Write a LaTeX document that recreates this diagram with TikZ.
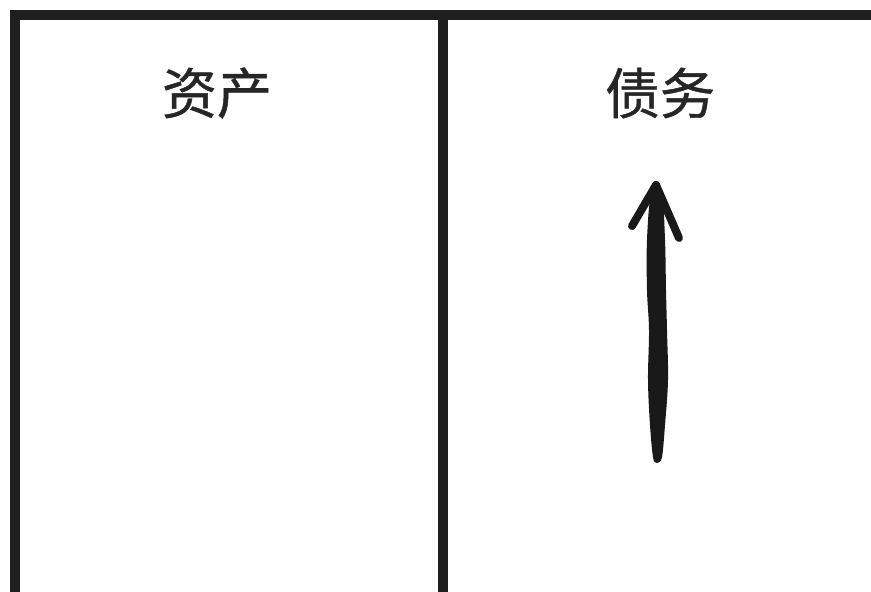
\documentclass[tikz,border=0pt]{standalone}
\usepackage{fontspec}
\newfontfamily\cjk[FakeBold=0.8]{Noto Sans CJK SC}
\begin{document}
\begin{tikzpicture}[x=1pt,y=-1pt,
  frameline/.style={line width=10pt, draw=black!88},
  heading/.style={font=\cjk\fontsize{55}{60}\selectfont, text=black!85, inner sep=0pt},
  brush/.style={draw=black!90, fill=black!90, line cap=round, line join=round}]
\useasboundingbox[fill=white] (0,0) rectangle (871,592);
% frame
\coordinate (tl) at (15,15);
\coordinate (tr) at (875,15);
\coordinate (bl) at (15,596);
\coordinate (tm) at (443,15);
\coordinate (bm) at (443,596);
\draw[frameline, line cap=rect] (tr) -- (tl) -- (bl);
\draw[frameline] (tm) -- (bm);
% headings
\node[heading] (assets) at (217,93) {资产};
\node[heading] (debt) at (660,93) {债务};
% arrow
\coordinate (arrowtail) at (657,459);
\coordinate (arrowtip) at (656,185);
\coordinate (barbl) at (632,226);
\coordinate (barbr) at (679,238);
\draw[brush, line width=2pt] plot[smooth cycle, tension=0.6] coordinates
  {(652,195) (648,240) (648,290) (650,330) (649,380) (651,425) (654,457)
   (657,461) (661,457) (664,425) (667,380) (666,330) (665,290) (664,240) (661,195)};
\draw[brush, line width=8pt, fill=none] (barbl) -- (arrowtip) -- (barbr);
\draw[brush, line width=8pt, fill=none] (arrowtip) -- (656,205);
\draw[brush, line width=6pt, fill=none] (arrowtail) -- +(0,1);
\end{tikzpicture}
\end{document}
